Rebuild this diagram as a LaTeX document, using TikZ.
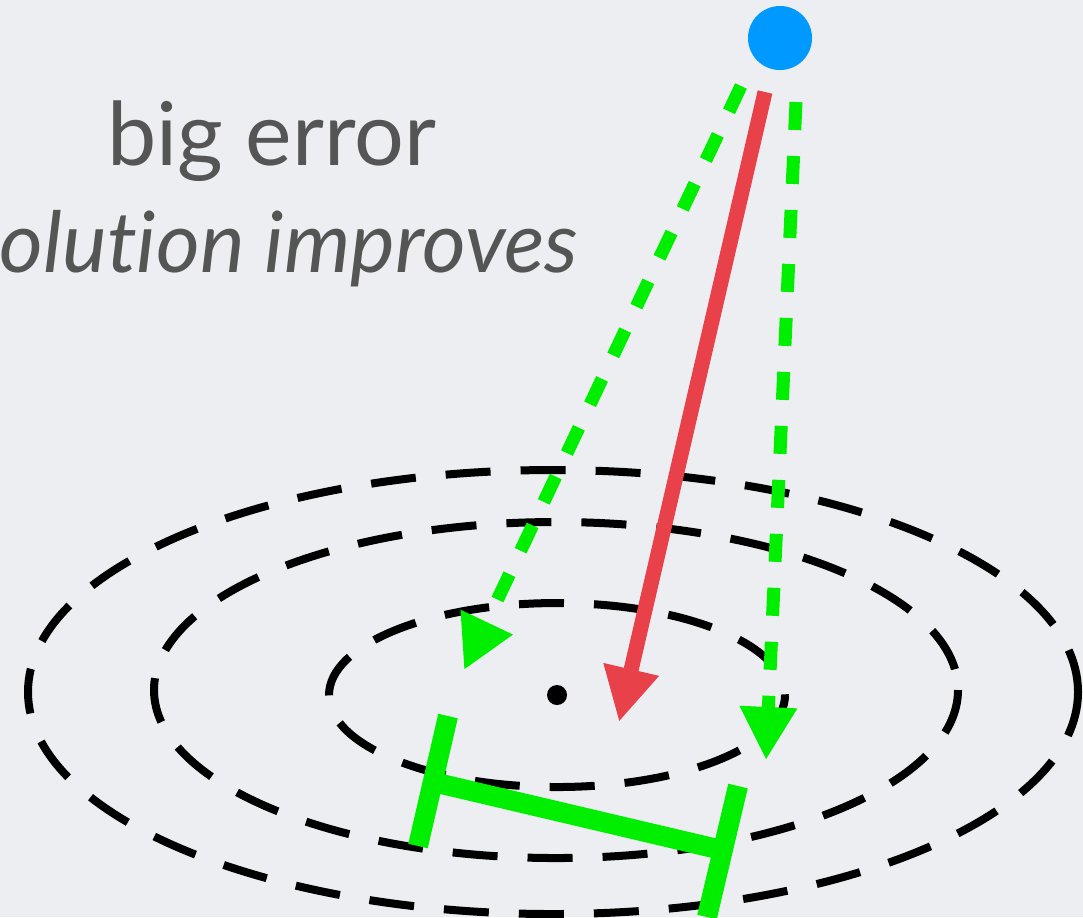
\documentclass[tikz,border=0pt]{standalone}
\usepackage{fontspec}
\setmainfont{Lato}[Ligatures={NoCommon,NoRequired,NoContextual}]
\usetikzlibrary{arrows.meta}

\definecolor{bgcol}{RGB}{236,238,241}
\definecolor{errred}{RGB}{233,65,74}
\definecolor{guessblue}{RGB}{0,153,255}
\definecolor{spreadgreen}{RGB}{0,238,0}
\definecolor{textgray}{RGB}{85,85,85}

\tikzset{
  level line/.style={black, line width=0.08cm, dash pattern=on 0.45cm off 0.30cm},
  true arrow/.style={-{Triangle[length=0.54cm, width=0.53cm]}, errred, line width=0.15cm},
  spread arrow/.style={-{Triangle[length=0.53cm, width=0.54cm]}, spreadgreen,
                       line width=0.13cm, dash pattern=on 0.28cm off 0.26cm},
  bar line/.style={spreadgreen, line width=0.20cm},
  label text/.style={font=\fontsize{25}{30}\selectfont, text=textgray, inner sep=0},
}

\begin{document}
\begin{tikzpicture}[x=0.01cm, y=-0.01cm]
    % background and frame
    \fill[bgcol] (0,0) rectangle (1083,917);
    \useasboundingbox (0,0) rectangle (1083,917);

    % labels
    \node[label text, anchor=base] (big) at (272,165) {big error};
    \node[label text, anchor=base, font=\fontsize{24}{30}\selectfont\itshape] (improves) at (289,272) {olution improves};

    % level sets round the minimum
    \node[circle, fill=black, minimum size=0.2cm, inner sep=0] (min) at (557,695) {};
    \draw[level line] (553,692) ellipse [x radius=525, y radius=222];
    \draw[level line] (556,690) ellipse [x radius=402, y radius=168];
    \draw[level line] (557,695) ellipse [x radius=228, y radius=92];

    % current guess
    \node[circle, fill=guessblue, minimum size=0.64cm, inner sep=0] (guess) at (780,38) {};

    \coordinate (redstart) at (765,92);
    \coordinate (redtip) at (619,722);
    \coordinate (leftstart) at (741,86);
    \coordinate (lefttip) at (464,670);
    \coordinate (rightstart) at (796,102);
    \coordinate (righttip) at (766,760);

    % arrows
    \draw[spread arrow] (leftstart) -- (lefttip);
    \draw[spread arrow] (rightstart) -- (righttip);
    \draw[true arrow] (redstart) -- (redtip);

    % spread bar
    \coordinate (barL) at (433,782);
    \coordinate (barR) at (722,850);
    \coordinate (barLtop) at (448,716);
    \coordinate (barLbot) at (418,846);
    \coordinate (barRtop) at (738,786);
    \coordinate (barRbot) at (707,917);
    \draw[bar line] (barL) -- (barR);
    \draw[bar line] (barLtop) -- (barLbot);
    \draw[bar line] (barRtop) -- (barRbot);
\end{tikzpicture}
\end{document}
